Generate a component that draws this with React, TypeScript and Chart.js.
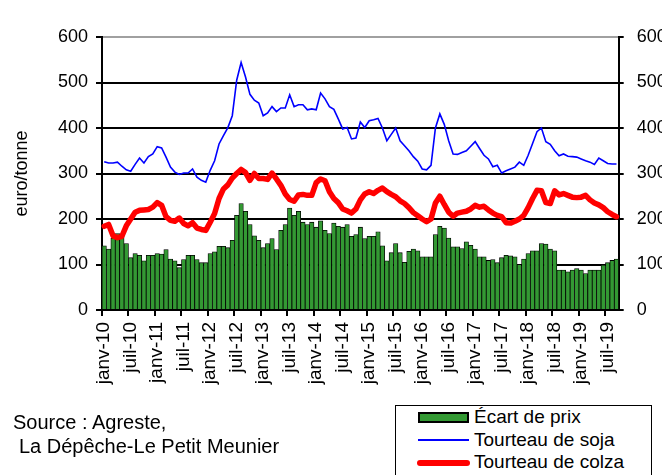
import React, { useEffect, useRef } from 'react';
import { Chart, registerables } from 'chart.js';

Chart.register(...registerables);

const MONTHS = ['janv', 'févr', 'mars', 'avr', 'mai', 'juin', 'juil', 'août', 'sept', 'oct', 'nov', 'déc'];
const YEARS = ['10', '11', '12', '13', '14', '15', '16', '17', '18', '19'];
const LAST_MONTH_2019 = 9; // janv-10 .. sept-19

const categories: string[] = [];
YEARS.forEach((y, yi) => {
  const n = yi === YEARS.length - 1 ? LAST_MONTH_2019 : 12;
  for (let m = 0; m < n; m++) categories.push(`${MONTHS[m]}-${y}`);
});

const ecartPrix = [
  141, 134, 158, 168, 166, 146, 115, 124, 120, 108, 120, 120,
  124, 123, 133, 112, 108, 93, 111, 120, 120, 111, 104, 104,
  124, 128, 140, 140, 137, 153, 208, 234, 217, 188, 163, 153,
  137, 146, 157, 133, 175, 188, 224, 208, 217, 193, 188, 193,
  182, 196, 175, 168, 191, 184, 182, 188, 162, 166, 182, 157,
  162, 162, 172, 141, 108, 126, 146, 126, 105, 129, 134, 130,
  117, 117, 117, 166, 184, 180, 158, 139, 139, 135, 150, 142,
  134, 117, 117, 109, 111, 104, 115, 120, 119, 117, 100, 112,
  124, 130, 130, 146, 145, 134, 130, 88, 88, 84, 88, 91,
  88, 80, 88, 88, 88, 99, 104, 109, 112,
];

const tourteauSoja = [
  326, 323, 323, 325, 316, 308, 305, 320, 334, 323, 337, 343,
  359, 356, 336, 314, 303, 298, 301, 301, 310, 292, 285, 281,
  307, 328, 365, 383, 401, 427, 505, 544, 512, 474, 461, 455,
  427, 433, 447, 436, 444, 444, 473, 447, 451, 451, 440, 442,
  440, 477, 464, 447, 441, 420, 398, 401, 376, 378, 413, 401,
  416, 418, 421, 400, 372, 386, 400, 372, 361, 350, 337, 327,
  310, 308, 318, 400, 431, 408, 372, 343, 342, 346, 350, 360,
  370, 355, 340, 332, 315, 318, 301, 306, 310, 314, 325, 318,
  340, 366, 392, 400, 370, 364, 350, 339, 343, 338, 337, 336,
  332, 328, 325, 320, 334, 328, 322, 321, 321,
];

const tourteauColza = [
  184, 188, 163, 159, 162, 185, 200, 215, 219, 220, 221, 226,
  236, 230, 205, 197, 195, 202, 190, 185, 192, 180, 177, 175,
  193, 212, 245, 266, 275, 290, 300, 309, 302, 285, 300, 289,
  289, 287, 301, 288, 274, 255, 243, 239, 253, 254, 252, 252,
  280, 288, 284, 260, 245, 236, 222, 218, 213, 222, 242, 255,
  260, 256, 263, 268, 260, 254, 249, 240, 234, 225, 214, 207,
  200, 194, 200, 235, 250, 232, 215, 206, 213, 215, 217, 222,
  230, 226, 228, 220, 213, 208, 205, 192, 191, 195, 200, 208,
  225, 245, 263, 262, 236, 234, 262, 253, 256, 252, 248, 247,
  248, 252, 242, 235, 231, 225, 216, 210, 205,
];

const Y_MIN = 0;
const Y_MAX = 600;
const Y_STEP = 100;
const LABEL_EVERY = 6;

const FONT = "'Liberation Sans', Arial, sans-serif";
const CANVAS_W = 700;
const CANVAS_H = 475;

export default function App() {
  const ref = useRef<HTMLCanvasElement>(null);

  useEffect(() => {
    document.body.style.margin = '0';
    const canvas = ref.current;
    if (!canvas) return;
    const chart = new Chart(canvas, {
      type: 'bar',
      data: {
        labels: categories,
        datasets: [
          {
            type: 'line',
            label: 'Tourteau de soja',
            data: tourteauSoja,
            borderColor: '#0000FF',
            backgroundColor: '#0000FF',
            borderWidth: 1.6,
            pointRadius: 0,
            tension: 0,
            order: 1,
            yAxisID: 'y',
          } as any,
          {
            type: 'line',
            label: 'Tourteau de colza',
            data: tourteauColza,
            borderColor: '#FF0000',
            backgroundColor: '#FF0000',
            borderWidth: 5.5,
            pointRadius: 0,
            tension: 0,
            borderJoinStyle: 'round',
            borderCapStyle: 'round',
            order: 2,
            yAxisID: 'y',
          } as any,
          {
            type: 'bar',
            label: 'Écart de prix',
            data: ecartPrix,
            backgroundColor: '#339933',
            borderColor: '#000000',
            borderWidth: 0.8,
            barPercentage: 1,
            categoryPercentage: 1,
            order: 3,
            yAxisID: 'y',
          } as any,
        ],
      },
      options: {
        responsive: false,
        animation: false,
        devicePixelRatio: 1,
        layout: { padding: { top: 37, left: 0, right: 0, bottom: 0 } },
        plugins: { legend: { display: false }, tooltip: { enabled: false } },
        scales: {
          x: {
            offset: true,
            grid: {
              offset: true,
              drawOnChartArea: false,
              tickLength: 6,
              lineWidth: 2,
              color: (ctx: any) =>
                typeof ctx.index === 'number' && ctx.index % LABEL_EVERY === 0 ? '#000' : 'rgba(0,0,0,0)',
            },
            border: { color: '#000', width: 2 },
            ticks: {
              autoSkip: false,
              maxRotation: 90,
              minRotation: 90,
              padding: 6,
              color: '#000',
              font: { family: FONT, size: 19 },
              callback: (_v: any, i: number) => (i % LABEL_EVERY === 0 ? categories[i] : ''),
            },
            afterFit: (s: any) => {
              s.height = 165;
            },
          },
          y: {
            position: 'left',
            min: Y_MIN,
            max: Y_MAX,
            grid: {
              lineWidth: 2,
              tickLength: 6,
              tickColor: '#000',
              color: (ctx: any) => (ctx.tick && ctx.tick.value === Y_MAX ? '#a0a0a0' : '#000'),
            },
            border: { color: '#000', width: 2 },
            ticks: {
              stepSize: Y_STEP,
              padding: 8,
              color: '#000',
              font: { family: FONT, size: 18 },
            },
            title: {
              display: true,
              text: 'euro/tonne',
              color: '#000',
              font: { family: FONT, size: 18 },
              padding: { top: 11, bottom: 0 },
            },
            afterFit: (s: any) => {
              s.width = 102;
            },
          },
          y2: {
            position: 'right',
            min: Y_MIN,
            max: Y_MAX,
            grid: { drawOnChartArea: false, lineWidth: 2, tickLength: 5, color: '#000' },
            border: { color: '#000', width: 2 },
            ticks: {
              stepSize: Y_STEP,
              padding: 13,
              color: '#000',
              font: { family: FONT, size: 18 },
            },
            afterFit: (s: any) => {
              s.width = CANVAS_W - 618.7;
            },
          },
        },
      } as any,
    });
    return () => chart.destroy();
  }, []);

  const textStyle: React.CSSProperties = {
    position: 'absolute',
    fontFamily: FONT,
    color: '#000',
    whiteSpace: 'nowrap',
  };

  return (
    <div style={{ position: 'relative', width: 662, height: 475, overflow: 'hidden', background: '#fff' }}>
      <canvas ref={ref} width={CANVAS_W} height={CANVAS_H} style={{ display: 'block' }} />
      <div style={{ ...textStyle, left: 13, top: 410, fontSize: 20, lineHeight: '24px' }}>Source : Agreste,</div>
      <div style={{ ...textStyle, left: 19, top: 434, fontSize: 20, lineHeight: '24px' }}>La Dépêche-Le Petit Meunier</div>
      <div
        style={{
          position: 'absolute',
          left: 395,
          top: 405,
          width: 257,
          height: 90,
          border: '1px solid #000',
          boxSizing: 'border-box',
          background: '#fff',
        }}
      />
      <div
        style={{
          position: 'absolute',
          left: 418,
          top: 412,
          width: 51,
          height: 11,
          background: '#339933',
          border: '2px solid #000',
          boxSizing: 'border-box',
        }}
      />
      <div style={{ ...textStyle, left: 474, top: 406, fontSize: 19, lineHeight: '22px' }}>Écart de prix</div>
      <div style={{ position: 'absolute', left: 418, top: 439, width: 51, height: 2, background: '#0000FF' }} />
      <div style={{ ...textStyle, left: 474, top: 429, fontSize: 19, lineHeight: '22px' }}>Tourteau de soja</div>
      <div
        style={{ position: 'absolute', left: 417, top: 460, width: 53, height: 6, borderRadius: 3, background: '#FF0000' }}
      />
      <div style={{ ...textStyle, left: 474, top: 451, fontSize: 19, lineHeight: '22px' }}>Tourteau de colza</div>
    </div>
  );
}
